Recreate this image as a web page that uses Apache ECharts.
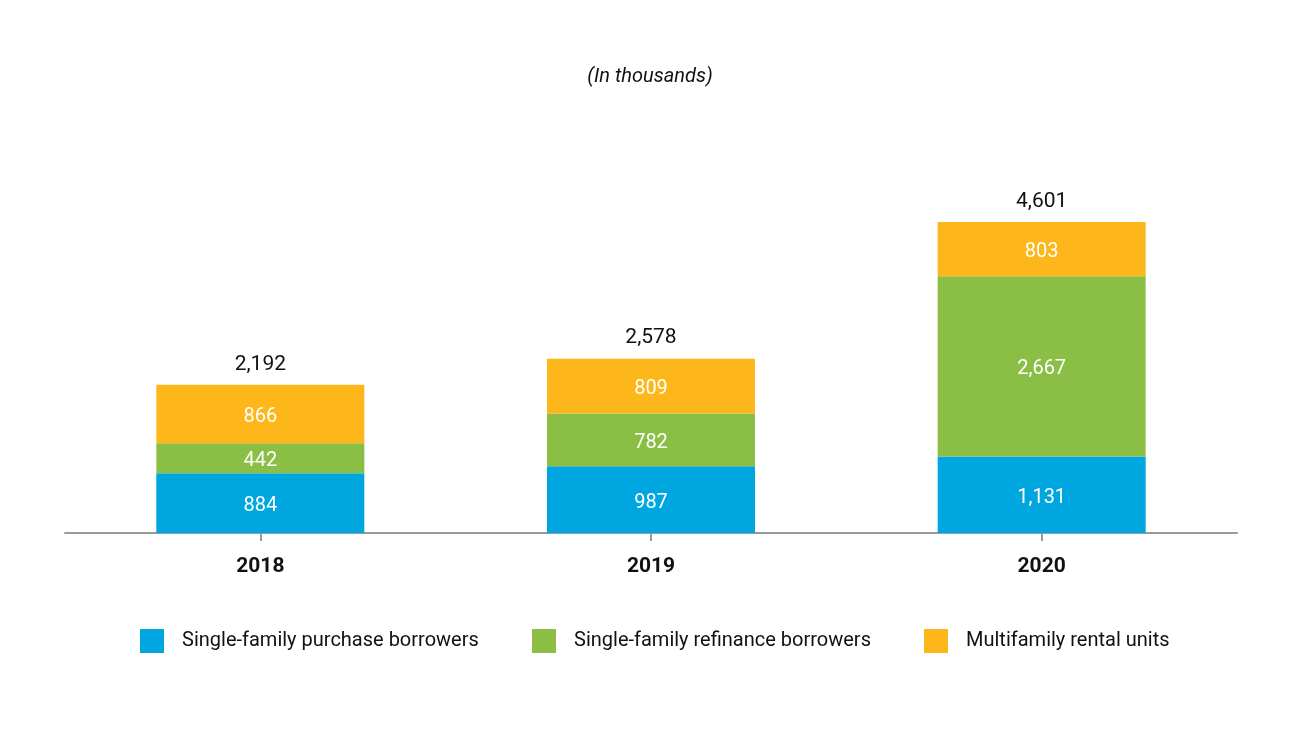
<!DOCTYPE html>
<html>
<head>
<meta charset="utf-8">
<script src="https://cdn.jsdelivr.net/npm/echarts@6/dist/echarts.min.js"></script>
<style>html,body{margin:0;padding:0;background:#fff;}#c{width:1300px;height:740px;}</style>
</head>
<body>
<div id="c"></div>
<script>
var categories = ['2018', '2019', '2020'];
var purchase = [884, 987, 1131];
var refinance = [442, 782, 2667];
var multifamily = [866, 809, 803];
var totals = [2192, 2578, 4601];
var seriesNames = ['Single-family purchase borrowers', 'Single-family refinance borrowers', 'Multifamily rental units'];
var colors = ['#00A6E0', '#8BBE45', '#FDB71A'];

var FONT = "'Liberation Sans Narrow', 'Roboto', sans-serif";
function fmt(v){ return v.toLocaleString('en-US'); }

var chart = echarts.init(document.getElementById('c'));
var innerLabel = {
  show: true, position: 'inside', color: '#fff', fontSize: 20, fontFamily: FONT, offset: [0, 3],
  formatter: function(p){ return fmt(p.value); }
};
function legendAt(x, i){
  return {
    left: x, top: 629, padding: 0, itemWidth: 24, itemHeight: 24, itemGap: 0,
    icon: 'rect', data: [seriesNames[i]],
    textStyle: { fontSize: 20, fontFamily: FONT, color: '#111', padding: [4, 0, 0, 13] },
    selectedMode: false
  };
}
chart.setOption({
  animation: false,
  title: {
    text: '(In thousands)', left: 'center', top: 62,
    textStyle: { fontSize: 20, fontStyle: 'italic', fontWeight: 'normal', fontFamily: FONT, color: '#111' }
  },
  legend: [legendAt(140, 0), legendAt(532, 1), legendAt(924, 2)],
  grid: { left: 65, right: 63, top: 195, bottom: 207, containLabel: false },
  xAxis: {
    type: 'category', data: categories,
    axisLine: { lineStyle: { color: '#9a9a9a', width: 2 } },
    axisTick: { show: true, alignWithLabel: true, length: 8, lineStyle: { color: '#9a9a9a', width: 2 } },
    axisLabel: { fontSize: 21, fontWeight: 'bold', fontFamily: FONT, color: '#111', margin: 23 }
  },
  yAxis: {
    type: 'value', min: 0, max: 5000, show: false, splitLine: { show: false }
  },
  series: [
    { name: seriesNames[0], type: 'bar', stack: 't', data: purchase, barWidth: 208, itemStyle: { color: colors[0] }, label: innerLabel },
    { name: seriesNames[1], type: 'bar', stack: 't', data: refinance, barWidth: 208, itemStyle: { color: colors[1] }, label: innerLabel },
    { name: seriesNames[2], type: 'bar', stack: 't', data: multifamily, barWidth: 208, itemStyle: { color: colors[2] }, label: innerLabel },
    { name: 'Total', type: 'scatter', data: totals, symbolSize: 0, silent: true, itemStyle: { opacity: 1 },
      label: { show: true, position: 'top', distance: 10, color: '#111', opacity: 1, fontSize: 21, fontFamily: FONT,
        formatter: function(p){ return fmt(p.value); } } }
  ]
});
</script>
</body>
</html>
